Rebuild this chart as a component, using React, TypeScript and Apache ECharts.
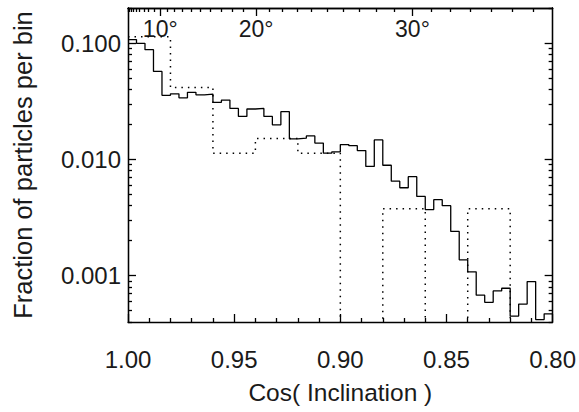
import React, { useEffect, useRef } from "react";
import * as echarts from "echarts";

// Solid histogram: 50 bins of width 0.004 from cos(i)=1.00 down to 0.80
const solidStart = 1.0;
const solidBinWidth = 0.004;
const solidValues = [
  0.107, 0.0994, 0.0876, 0.057, 0.0355, 0.0366, 0.0338, 0.0377, 0.0359, 0.0364,
  0.0309, 0.0323, 0.0274, 0.0234, 0.0271, 0.0274, 0.0234, 0.0198, 0.0257, 0.015,
  0.0152, 0.0159, 0.0138, 0.0113, 0.0116, 0.0134, 0.0131, 0.0119, 0.0087, 0.0147,
  0.0089, 0.0065, 0.0057, 0.0071, 0.0048, 0.0037, 0.0045, 0.004, 0.0024, 0.00137,
  0.00108, 0.00068, 0.00059, 0.00074, 0.00078, 0.00045, 0.00057, 0.00089, 0.00042, 0.00047,
];

// Dotted histogram: 10 bins of width 0.02 (0 = empty bin)
const dottedStart = 1.0;
const dottedBinWidth = 0.02;
const dottedValues = [0.113, 0.0415, 0.0113, 0.0151, 0.0113, 0, 0.00377, 0, 0.00377, 0];

const xMin = 0.8;
const xMax = 1.0;
const xInterval = 0.05;
const yMin = 0.0004;
const yMax = 0.2;
const yMajorTicks = [0.001, 0.01, 0.1];
const yMinorTicks = [
  0.0004, 0.0005, 0.0006, 0.0007, 0.0008, 0.0009,
  0.002, 0.003, 0.004, 0.005, 0.006, 0.007, 0.008, 0.009,
  0.02, 0.03, 0.04, 0.05, 0.06, 0.07, 0.08, 0.09, 0.2,
];
const degreeMajor = [10, 20, 30];
const degreeMinor = [
  1, 2, 3, 4, 5, 6, 7, 8, 9, 11, 12, 13, 14, 15, 16, 17, 18, 19,
  21, 22, 23, 24, 25, 26, 27, 28, 29, 31, 32, 33, 34, 35, 36,
];

const EMPTY_FLOOR = 1e-7; // below the axis minimum, clipped away

const cosd = (d: number) => Math.cos((d * Math.PI) / 180);

function histData(start: number, width: number, values: number[]) {
  const pts: [number, number][] = values.map((v, i) => [
    start - width * i,
    v > 0 ? v : EMPTY_FLOOR,
  ]);
  const last = values[values.length - 1];
  pts.push([start - width * values.length, last > 0 ? last : EMPTY_FLOOR]);
  return pts;
}

const FONT = "Liberation Sans";
const TEXT = "#1a1a1a";
const LINE = { color: "#000", width: 1.3 };

export default function App() {
  const ref = useRef<HTMLDivElement>(null);
  useEffect(() => {
    document.body.style.margin = "0";
    const chart = echarts.init(ref.current!, null, { renderer: "svg" });
    const baseX: any = {
      type: "value",
      min: xMin,
      max: xMax,
      inverse: true,
      splitLine: { show: false },
      axisLine: { show: true, onZero: false, lineStyle: LINE },
    };
    const baseY: any = {
      type: "log",
      logBase: 10,
      min: yMin,
      max: yMax,
      splitLine: { show: false },
      axisLine: { show: true, onZero: false, lineStyle: LINE },
    };
    const option: any = {
      animation: false,
      backgroundColor: "#fff",
      grid: { left: 128, right: 25, top: 8, bottom: 90, containLabel: false },
      xAxis: [
        {
          ...baseX,
          position: "bottom",
          interval: xInterval,
          axisTick: { show: true, inside: true, length: 8, lineStyle: LINE },
          minorTick: { show: true, splitNumber: 5, length: 4, lineStyle: LINE },
          axisLabel: {
            margin: 25,
            fontSize: 24,
            fontFamily: FONT,
            color: TEXT,
            formatter: (v: number) => v.toFixed(2),
          },
          name: "Cos( Inclination )",
          nameLocation: "middle",
          nameGap: 58,
          nameTextStyle: { fontSize: 24.5, fontFamily: FONT, color: TEXT },
        },
        {
          ...baseX,
          position: "top",
          axisTick: {
            show: true,
            inside: true,
            length: 8,
            lineStyle: LINE,
            customValues: degreeMajor.map(cosd),
          },
          axisLabel: {
            show: true,
            inside: true,
            margin: 9,
            fontSize: 23,
            fontFamily: FONT,
            color: TEXT,
            customValues: degreeMajor.map(cosd),
            formatter: (v: number) => Math.round((Math.acos(v) * 180) / Math.PI) + "°",
          },
        },
        {
          ...baseX,
          position: "top",
          axisTick: {
            show: true,
            inside: true,
            length: 4,
            lineStyle: LINE,
            customValues: degreeMinor.map(cosd),
          },
          axisLabel: { show: false },
        },
      ],
      yAxis: [
        {
          ...baseY,
          position: "left",
          axisTick: { show: true, inside: true, length: 8, lineStyle: LINE, customValues: yMajorTicks },
          axisLabel: {
            show: true,
            margin: 7,
            fontSize: 24,
            fontFamily: FONT,
            color: TEXT,
            customValues: yMajorTicks,
            formatter: (v: number) => v.toFixed(3),
          },
          name: "Fraction of particles per bin",
          nameLocation: "middle",
          nameRotate: 90,
          nameGap: 92,
          nameTextStyle: { fontSize: 25.5, fontFamily: FONT, color: TEXT, padding: [0, 0, 0, 0] },
        },
        {
          ...baseY,
          position: "left",
          axisTick: { show: true, inside: true, length: 4, lineStyle: LINE, customValues: yMinorTicks },
          axisLabel: { show: false },
        },
        {
          ...baseY,
          position: "right",
          axisTick: { show: true, inside: true, length: 8, lineStyle: LINE, customValues: yMajorTicks },
          axisLabel: { show: false },
        },
        {
          ...baseY,
          position: "right",
          axisTick: { show: true, inside: true, length: 4, lineStyle: LINE, customValues: yMinorTicks },
          axisLabel: { show: false },
        },
      ],
      series: [
        {
          type: "line",
          step: "end",
          xAxisIndex: 0,
          yAxisIndex: 0,
          symbol: "none",
          clip: true,
          silent: true,
          lineStyle: { color: "#000", width: 1.3 },
          data: histData(solidStart, solidBinWidth, solidValues),
        },
        {
          type: "line",
          step: "end",
          xAxisIndex: 0,
          yAxisIndex: 0,
          symbol: "none",
          clip: true,
          silent: true,
          lineStyle: { color: "#000", width: 1.5, type: [1.5, 5] },
          data: histData(dottedStart, dottedBinWidth, dottedValues),
        },
      ],
    };
    chart.setOption(option);
    return () => chart.dispose();
  }, []);
  return <div ref={ref} style={{ width: 579, height: 412 }} />;
}
